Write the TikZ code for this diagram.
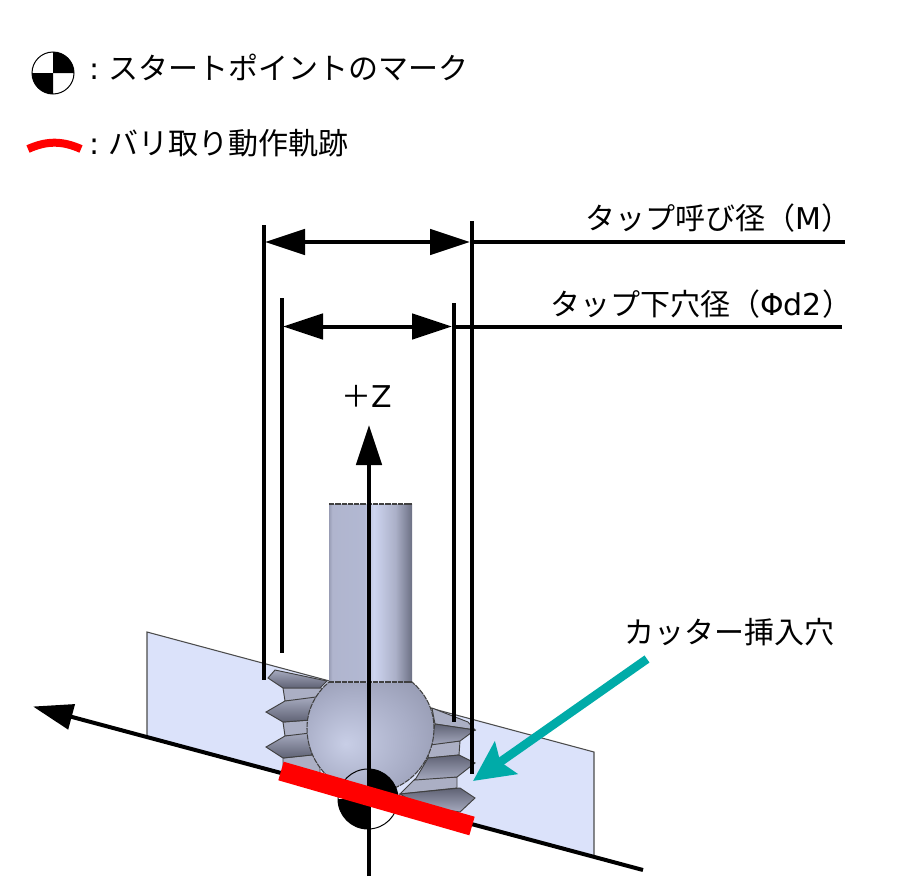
\documentclass[tikz,border=0pt]{standalone}
\usepackage{fontspec}
\setmainfont{Noto Sans CJK JP}
\newfontfamily\latinfont{DejaVu Sans}
\usetikzlibrary{arrows.meta,calc}

\definecolor{platecolor}{HTML}{DBE2FA}
\definecolor{rootcolor}{HTML}{ABAFC4}
\definecolor{faceupper}{HTML}{A6AABF}
\definecolor{facelower}{HTML}{5F6274}
\definecolor{tealarrow}{HTML}{00ABA8}
\definecolor{ballinner}{HTML}{C8CEE6}
\definecolor{ballmid}{HTML}{A8ADC6}
\definecolor{ballouter}{HTML}{7E8298}
\definecolor{shaftedge}{HTML}{989CB4}
\definecolor{shaftleft}{HTML}{B0B5CE}
\definecolor{shaftmid}{HTML}{B2B8D2}
\definecolor{shaftlight}{HTML}{CED5F0}
\definecolor{shaftright}{HTML}{ABB0C8}
\definecolor{shaftdark}{HTML}{6C7084}
\pgfdeclareradialshading{ballshade}{\pgfpoint{-0.35cm}{-0.1cm}}{
  color(0bp)=(ballinner); color(22bp)=(ballmid); color(50bp)=(ballouter)}
\pgfdeclarehorizontalshading{shaftshade}{100bp}{
  color(0bp)=(shaftedge); color(25bp)=(shaftedge); color(27bp)=(shaftleft);
  color(46bp)=(shaftmid); color(52bp)=(shaftlight);
  color(65bp)=(shaftright); color(75bp)=(shaftdark); color(100bp)=(shaftdark)}

\newcommand{\startmark}[2]{
  \fill[black] (#1) -- ++(#2,0) arc (0:-90:#2) -- cycle;
  \fill[black] (#1) -- ++(-#2,0) arc (180:90:#2) -- cycle;
  \draw[black, line width=0.75pt] (#1) circle (#2);
}

\begin{document}
\begin{tikzpicture}[x=0.75pt, y=-0.75pt, >=Triangle, line width=3pt]

\tikzstyle{every node}=[font=\fontsize{22.5}{26}\selectfont, inner sep=0pt]
\tikzstyle{dimline}=[draw=black, line width=3pt]
\tikzstyle{dimarrow}=[dimline, {Triangle[length=30pt, width=19pt]}-{Triangle[length=30pt, width=19pt]}]
\tikzstyle{axisarrow}=[dimline, -{Triangle[length=30pt, width=19pt]}]
\tikzstyle{root}=[fill=rootcolor, draw=black!75, line width=0.7pt]
\tikzstyle{tooth}=[top color=faceupper, bottom color=facelower, draw=black!75, line width=0.7pt]
\tikzstyle{toothup}=[top color=facelower, bottom color=faceupper, draw=black!75, line width=0.7pt]

\useasboundingbox (0,0) rectangle (902,882);

% points of the plate and the axes
\coordinate (plate1) at (147,632);
\coordinate (plate2) at (594,752);
\coordinate (plate3) at (594,857);
\coordinate (plate4) at (147,737);
\coordinate (linestart) at (643,870);
\coordinate (lineend) at (33,706.5);
\coordinate (zstart) at (369,876);
\coordinate (zend) at (369,425);
\coordinate (barstart) at (281,771);
\coordinate (barend) at (472,826);
\coordinate (cutterstart) at (647,659);
\coordinate (cutterend) at (473,781);

% dimension lines
\coordinate (ext1top) at (263.5,225);
\coordinate (ext1bot) at (263.5,680);
\coordinate (ext2top) at (281.5,298);
\coordinate (ext2bot) at (281.5,653);
\coordinate (ext3top) at (454,303);
\coordinate (ext3bot) at (454,722);
\coordinate (ext4top) at (471.5,221);
\coordinate (ext4bot) at (471.5,774);
\coordinate (dimM1) at (265,242);
\coordinate (dimM2) at (470,242);
\coordinate (dimM3) at (845,242);
\coordinate (dimD1) at (283,326.5);
\coordinate (dimD2) at (452,326.5);
\coordinate (dimD3) at (842,326.5);

\coordinate (arcstart) at (28,149);
\coordinate (arcend) at (81,149);

% plate
\draw[fill=platecolor, draw=black!70, line width=0.8pt] (plate1) -- (plate2) -- (plate3) -- (plate4) -- cycle;

% thread, left side
\draw[root] (283,688) -- (322,688) -- (322,700) -- (285,701) -- cycle;
\draw[root] (283,722) -- (310,720) -- (310,735) -- (285,736) -- cycle;
\draw[root] (283,758) -- (320,754) -- (320,775) -- (283,766) -- cycle;
\draw[tooth] (275,670) -- (327,681) -- (320,688) -- (283,688) -- (268,678) -- cycle;
\draw[tooth] (266,712) -- (285,701) -- (316,697) -- (310,720) -- (283,722) -- cycle;
\draw[tooth] (266,747) -- (285,736) -- (310,733) -- (312,755) -- (283,758) -- cycle;

% thread, right side
\draw[root] (430,744) -- (460,741) -- (459,755) -- (428,758) -- cycle;
\draw[root] (415,779) -- (457,777) -- (457,788) -- (400,794) -- cycle;
\draw[root] (432,708) -- (468,722) -- (475,730) -- (435,724) -- cycle;
\draw[toothup] (435,724) -- (475,730) -- (460,741) -- (430,745) -- cycle;
\draw[toothup] (428,758) -- (459,755) -- (475,763) -- (457,777) -- (415,780) -- cycle;
\draw[toothup] (400,794) -- (460,788) -- (475,798) -- (460,812) -- (420,806) -- cycle;

% tool
\draw[shading=ballshade, draw=black!75, line width=0.8pt, dash pattern=on 4pt off 0.7pt] (329,682) -- (412,682)
  .. controls (426,694) and (434,710) .. (434,728)
  .. controls (434,764) and (405,793) .. (370,793)
  .. controls (335,793) and (307,764) .. (307,728)
  .. controls (307,710) and (315,694) .. (329,682) -- cycle;
\fill[shading=shaftshade] (329,504) rectangle (412,682);
\draw[draw=black!75, line width=0.8pt, dash pattern=on 4pt off 0.7pt] (329,504) -- (412,504);
\draw[draw=black!75, line width=0.8pt, dash pattern=on 4pt off 0.7pt] (329,682) -- (412,682);

% start point mark
\startmark{368,799}{30}

% axes
\path (linestart) edge [axisarrow] (lineend);
\path (zstart) edge [axisarrow] (zend);

\path[dimline] (ext1top) edge (ext1bot);
\path[dimline] (ext2top) edge (ext2bot);
\path[dimline] (ext3top) edge (ext3bot);
\path[dimline] (ext4top) edge (ext4bot);
\path (dimM1) edge [dimarrow] (dimM2);
\path (dimM2) edge [dimline] (dimM3);
\path (dimD1) edge [dimarrow] (dimD2);
\path (dimD2) edge [dimline] (dimD3);

\path (barstart) edge [draw=red, line width=14.5pt] (barend);
\path (cutterstart) edge [draw=tealarrow, line width=6.5pt, -{Stealth[length=30pt, width=29pt, inset=5pt]}] (cutterend);

% labels
\node[anchor=east] (labelM) at (853,218) {タップ呼び径（{\latinfont M}）};
\node[anchor=east] (labelD) at (854,304) {タップ下穴径（{\latinfont Φd2}）};
\node (labelZ) at (367,396) {＋{\latinfont Z}};
\node[anchor=west] (labelCutter) at (622.5,632) {カッター挿入穴};

% legend
\startmark{53,73}{21}
\path (arcstart) edge [draw=red, line width=6pt, bend left=24] (arcend);
\node[anchor=west] (legendMark) at (87,67) {{\latinfont :} スタートポイントのマーク};
\node[anchor=west] (legendPath) at (87,143) {{\latinfont :} バリ取り動作軌跡};
\end{tikzpicture}
\end{document}
